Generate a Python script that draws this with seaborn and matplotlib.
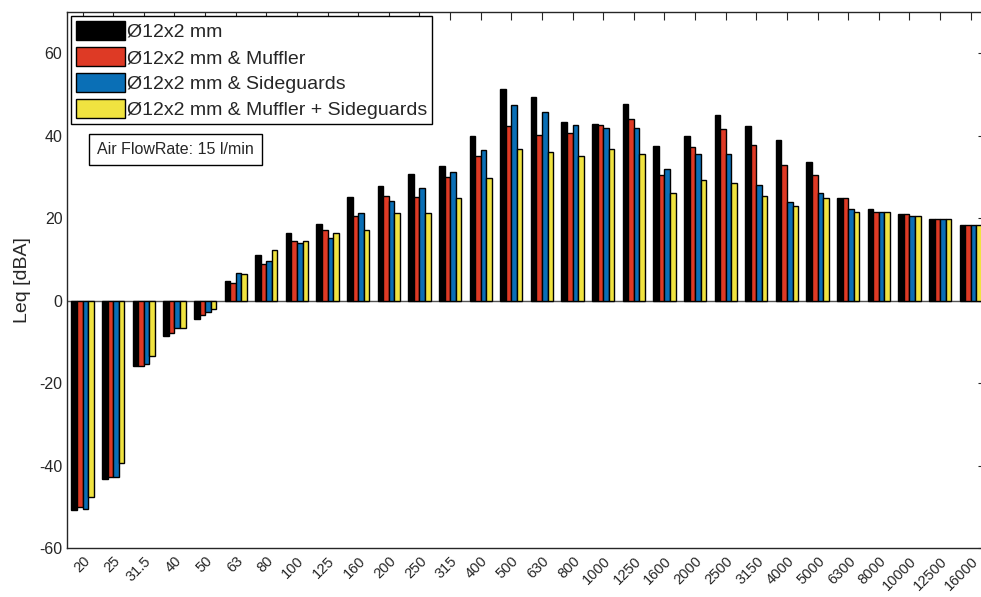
import pandas as pd
import matplotlib
matplotlib.use("Agg")
import matplotlib.pyplot as plt
import seaborn as sns

# ---------------------
# Data
# ---------------------
freqs = ["20", "25", "31.5", "40", "50", "63", "80", "100", "125", "160",
         "200", "250", "315", "400", "500", "630", "800", "1000", "1250", "1600",
         "2000", "2500", "3150", "4000", "5000", "6300", "8000", "10000", "12500", "16000"]

configs = ["Ø12x2 mm", "Ø12x2 mm & Muffler", "Ø12x2 mm & Sideguards",
           "Ø12x2 mm & Muffler + Sideguards"]

pipe_only = [-50.8, -43.1, -15.8, -8.6, -4.4, 4.9, 11.2, 16.5, 18.6, 25.2,
             27.8, 30.7, 32.8, 40.0, 51.3, 49.5, 43.3, 42.9, 47.8, 37.5,
             40.0, 45.0, 42.4, 39.1, 33.7, 25.0, 22.2, 21.0, 19.9, 18.3]
muffler = [-50.0, -42.7, -15.8, -7.9, -3.4, 4.3, 9.0, 14.4, 17.2, 20.6,
           25.4, 25.2, 30.0, 35.1, 42.3, 40.2, 40.8, 42.6, 44.1, 30.6,
           37.2, 41.7, 37.8, 33.0, 30.6, 25.0, 21.6, 21.0, 19.8, 18.3]
sideguards = [-50.5, -42.7, -15.2, -6.6, -2.8, 6.7, 9.6, 14.1, 15.3, 21.3,
              24.3, 27.3, 31.2, 36.6, 47.4, 45.9, 42.6, 42.0, 42.0, 31.9,
              35.7, 35.7, 28.2, 24.0, 26.1, 22.2, 21.6, 20.6, 19.8, 18.3]
muffler_sideguards = [-47.5, -39.3, -13.4, -6.6, -1.9, 6.4, 12.4, 14.4, 16.5, 17.2,
                      21.3, 21.3, 24.9, 29.8, 36.9, 36.0, 35.1, 36.9, 35.7, 26.1,
                      29.4, 28.5, 25.5, 22.9, 25.0, 21.6, 21.6, 20.6, 19.8, 18.3]

colors = ["#000000", "#DE3A25", "#0A6FB6", "#F0E340"]

series = [pipe_only, muffler, sideguards, muffler_sideguards]
rows = []
for cfg, vals in zip(configs, series):
    for f, v in zip(freqs, vals):
        rows.append({"freq": f, "leq": v, "config": cfg})
df = pd.DataFrame(rows)

# ---------------------
# Plot
# ---------------------
sns.set_style("white")
plt.rcParams["font.family"] = ["Liberation Sans", "DejaVu Sans"]
plt.rcParams["axes.unicode_minus"] = False

fig = plt.figure(figsize=(9.81, 5.97), dpi=100)
ax = fig.add_axes([0.0686, 0.0816, 0.9365, 0.898])

sns.barplot(data=df, x="freq", y="leq", hue="config", order=freqs, hue_order=configs,
            palette=colors, saturation=1, width=0.727, errorbar=None,
            edgecolor="black", linewidth=1, ax=ax)

ax.axhline(0, color="#555555", lw=1, zorder=0.5)

ax.set_xlim(-0.5, 29.5)
ax.set_ylim(-60, 70)
ax.set_yticks(range(-60, 61, 20))
ax.set_xlabel("")
ax.set_ylabel("Leq [dBA]", fontsize=14, color="#262626", labelpad=6)

ax.tick_params(axis="both", direction="in", length=6, width=0.8, color="#262626",
               labelcolor="#262626", labelsize=11.5, top=True, right=True)
ax.tick_params(axis="x", labelsize=10.5, pad=4)
plt.setp(ax.get_xticklabels(), rotation=45, ha="right", rotation_mode="anchor")

for sp in ax.spines.values():
    sp.set_color("#262626")
    sp.set_linewidth(1)

handles, labels = ax.get_legend_handles_labels()
ax.legend(handles, labels, loc="upper left", bbox_to_anchor=(0, 1), fontsize=14,
          frameon=True, fancybox=False, edgecolor="black", framealpha=1,
          handlelength=2.5, handleheight=1.1, handletextpad=0.1,
          labelspacing=0.32, borderpad=0.25, borderaxespad=0.2)

fig.text(97 / 981, 1 - 149.5 / 597, "Air FlowRate: 15 l/min", fontsize=11.5,
         va="center", ha="left", color="#262626",
         bbox=dict(boxstyle="square,pad=0.5", fc="white", ec="black", lw=1))

fig.savefig("out.png", dpi=100)
plt.close(fig)
